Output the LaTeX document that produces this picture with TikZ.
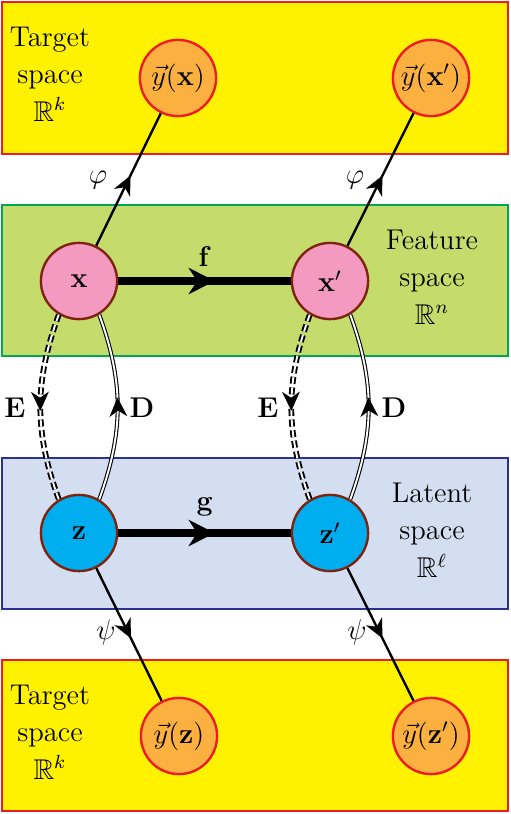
\documentclass[tikz,border=0pt]{standalone}
\usepackage{amssymb}
\usetikzlibrary{arrows.meta,decorations.markings}

\definecolor{tgtyellow}{RGB}{255,242,0}
\definecolor{tgtred}{RGB}{237,28,36}
\definecolor{featgreen}{RGB}{197,220,108}
\definecolor{featedge}{RGB}{0,166,81}
\definecolor{latblue}{RGB}{211,223,241}
\definecolor{latedge}{RGB}{46,49,146}
\definecolor{ptpink}{RGB}{244,154,193}
\definecolor{ptcyan}{RGB}{0,174,239}
\definecolor{ptorange}{RGB}{251,176,64}
\definecolor{ptbrown}{RGB}{125,35,15}

\begin{document}
\begin{tikzpicture}[
    x=0.42pt, y=-0.42pt,
    every node/.style={font=\large},
    tgtspace/.style={draw=tgtred, fill=tgtyellow, line width=0.5pt},
    featspace/.style={draw=featedge, fill=featgreen, line width=0.5pt},
    latspace/.style={draw=latedge, fill=latblue, line width=0.5pt},
    spacename/.style={align=center},
    featpt/.style={circle, draw=ptbrown, fill=ptpink, line width=1pt,
        minimum size=32pt, inner sep=0pt},
    latpt/.style={circle, draw=ptbrown, fill=ptcyan, line width=1pt,
        minimum size=32pt, inner sep=0pt},
    tgtpt/.style={circle, draw=tgtred, fill=ptorange, line width=1pt,
        minimum size=32pt, inner sep=0pt},
    midarrow/.style={postaction={decorate}, decoration={markings,
        mark=at position #1 with {\arrow{Stealth[length=8pt,width=7.5pt,inset=2.5pt]}}}},
    bigarrow/.style={postaction={decorate}, decoration={markings,
        mark=at position #1 with {\arrow{Stealth[length=11pt,width=11pt]}}}},
    predline/.style={draw, line width=1pt, midarrow=0.53},
    mapline/.style={draw, line width=3.4pt, bigarrow=0.56},
    encline/.style={draw, dash pattern=on 3pt off 1.5pt, double,
        double distance=0.8pt, line width=0.8pt},
    decline/.style={draw, double, double distance=0.8pt, line width=0.45pt}
]

\useasboundingbox (0,0) rectangle (510,814);

% spaces
\path[tgtspace]  (2,2)   rectangle (508,154);
\path[featspace] (2,205) rectangle (508,356);
\path[latspace]  (2,458) rectangle (508,609);
\path[tgtspace]  (2,660) rectangle (508,811);

\node[spacename] at (50,74)  {Target\\[1.8pt]space\\[1.8pt]$\mathbb{R}^k$};
\node[spacename] at (432,277) {Feature\\[1.8pt]space\\[1.8pt]$\mathbb{R}^n$};
\node[spacename] at (432,530) {Latent\\[1.8pt]space\\[1.8pt]$\mathbb{R}^\ell$};
\node[spacename] at (50,732) {Target\\[1.8pt]space\\[1.8pt]$\mathbb{R}^k$};

% points
\node[tgtpt]  (yx)  at (178,78)  {$\vec{y}(\mathbf{x})$};
\node[tgtpt]  (yxp) at (431,78)  {$\vec{y}(\mathbf{x}')$};
\node[featpt] (x)   at (79,281)  {$\mathbf{x}$};
\node[featpt] (xp)  at (330,281) {$\mathbf{x}'$};
\node[latpt]  (z)   at (79,533)  {$\mathbf{z}$};
\node[latpt]  (zp)  at (330,533) {$\mathbf{z}'$};
\node[tgtpt]  (yz)  at (179,736) {$\vec{y}(\mathbf{z})$};
\node[tgtpt]  (yzp) at (431,736) {$\vec{y}(\mathbf{z}')$};

% maps
\draw[predline] (x) -- (yx);
\draw[predline] (xp) -- (yxp);
\draw[predline] (z) -- (yz);
\draw[predline] (zp) -- (yzp);
\draw[mapline] (x) -- (xp);
\draw[mapline] (z) -- (zp);

% encoder / decoder
\draw[encline] (x.239) to[bend right=20] (z.121);
\path[midarrow=0.52] (x.239) to[bend right=20] (z.121);
\draw[decline] (z.59) to[bend right=20] (x.301);
\path[midarrow=0.55] (z.59) to[bend right=20] (x.301);
\draw[encline] (xp.239) to[bend right=20] (zp.121);
\path[midarrow=0.52] (xp.239) to[bend right=20] (zp.121);
\draw[decline] (zp.59) to[bend right=20] (xp.301);
\path[midarrow=0.55] (zp.59) to[bend right=20] (xp.301);

% labels
\node (phil) at (98,180)  {$\varphi$};
\node (phir) at (355,180) {$\varphi$};
\node (psil) at (106,632) {$\psi$};
\node (psir) at (357,632) {$\psi$};
\node (fl)   at (205,257) {$\mathbf{f}$};
\node (gl)   at (205,507) {$\mathbf{g}$};
\node (el)   at (15,408)  {$\mathbf{E}$};
\node (dl)   at (142,408) {$\mathbf{D}$};
\node (elp)  at (268,408) {$\mathbf{E}$};
\node (dlp)  at (394,408) {$\mathbf{D}$};

\end{tikzpicture}
\end{document}
